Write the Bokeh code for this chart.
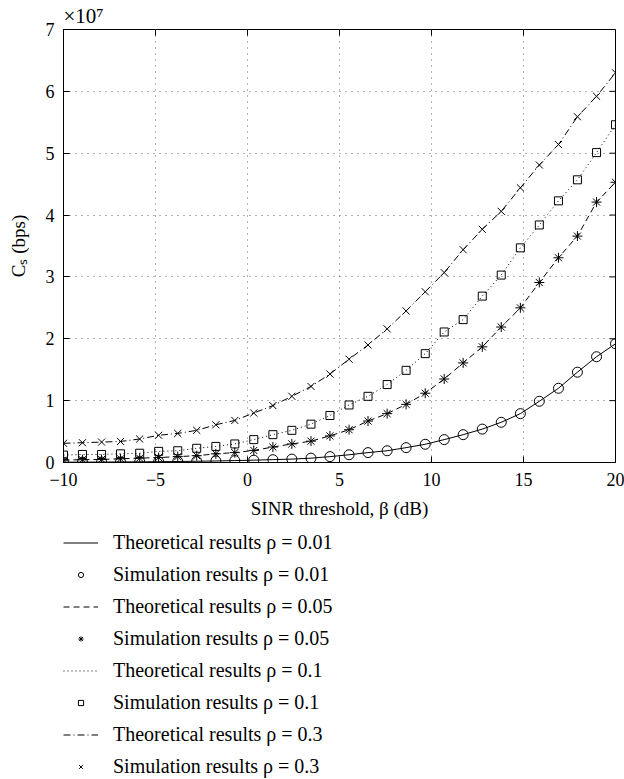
import numpy as np
from bokeh.plotting import figure
from bokeh.layouts import column
from bokeh.models import Range1d, Legend, LegendItem, FixedTicker
from bokeh.embed import file_html
from bokeh.resources import INLINE

# SINR threshold beta (dB)
beta_db = [-10.00, -8.97, -7.93, -6.90, -5.86, -4.83, -3.79, -2.76, -1.72, -0.69,
           0.34, 1.38, 2.41, 3.45, 4.48, 5.52, 6.55, 7.59, 8.62, 9.66,
           10.69, 11.72, 12.76, 13.79, 14.83, 15.86, 16.90, 17.93, 18.97, 20.00]

# Secrecy capacity Cs in units of 1e7 bps
cs_rho_001 = [0.005, 0.006, 0.007, 0.009, 0.011, 0.013, 0.016, 0.020, 0.025, 0.031,
              0.038, 0.046, 0.055, 0.070, 0.095, 0.125, 0.160, 0.190, 0.240, 0.295,
              0.370, 0.450, 0.540, 0.650, 0.790, 0.990, 1.200, 1.460, 1.710, 1.920]
cs_rho_005 = [0.040, 0.045, 0.050, 0.060, 0.070, 0.080, 0.095, 0.110, 0.140, 0.160,
              0.195, 0.250, 0.300, 0.345, 0.430, 0.530, 0.670, 0.790, 0.940, 1.120,
              1.350, 1.610, 1.870, 2.190, 2.500, 2.910, 3.310, 3.660, 4.210, 4.530]
cs_rho_01 = [0.120, 0.130, 0.130, 0.140, 0.150, 0.180, 0.190, 0.230, 0.260, 0.300,
             0.370, 0.450, 0.520, 0.620, 0.760, 0.930, 1.070, 1.260, 1.490, 1.760,
             2.110, 2.310, 2.690, 3.030, 3.470, 3.840, 4.230, 4.570, 5.010, 5.460]
cs_rho_03 = [0.310, 0.320, 0.330, 0.340, 0.380, 0.440, 0.470, 0.520, 0.610, 0.680,
             0.800, 0.920, 1.070, 1.230, 1.430, 1.670, 1.900, 2.160, 2.450, 2.760,
             3.070, 3.440, 3.770, 4.060, 4.440, 4.810, 5.140, 5.590, 5.920, 6.300]

x_ticks = [-10, -5, 0, 5, 10, 15, 20]
y_ticks = [0, 1, 2, 3, 4, 5, 6, 7]

rhos = ["0.01", "0.05", "0.1", "0.3"]
series = [cs_rho_001, cs_rho_005, cs_rho_01, cs_rho_03]
dashes = ["solid", "6 4", "1 3", "7 3 1 3"]
markers = ["circle", "asterisk", "square", "x"]
msizes = [10, 10, 8, 10]

FONT = "Liberation Serif"

p = figure(width=624, height=525, output_backend="svg", toolbar_location=None,
           x_range=Range1d(-10, 20), y_range=Range1d(0, 7),
           min_border_left=63, min_border_right=9, min_border_top=29,
           min_border_bottom=63, title="\u00d710\u2077")

p.title.align = "left"
p.title.text_font = FONT
p.title.text_font_size = "21px"
p.title.text_font_style = "normal"
p.title.text_color = "black"
p.title.standoff = 3
p.title.offset = 0

p.background_fill_color = "white"
p.border_fill_color = "white"
p.outline_line_color = "black"
p.outline_line_width = 1

for ax in (p.xaxis[0], p.yaxis[0]):
    ax.major_tick_in = 6
    ax.major_tick_out = 0
    ax.minor_tick_line_color = None
    ax.axis_line_color = "black"
    ax.major_tick_line_color = "black"
    ax.major_label_text_font = FONT
    ax.major_label_text_font_size = "18px"
    ax.major_label_text_color = "black"
    ax.axis_label_text_font = FONT
    ax.axis_label_text_font_size = "19px"
    ax.axis_label_text_font_style = "normal"
    ax.axis_label_text_color = "black"

p.xaxis.ticker = FixedTicker(ticks=x_ticks)
p.yaxis.ticker = FixedTicker(ticks=y_ticks)
p.xaxis.major_label_overrides = {-10: "\u221210", -5: "\u22125"}
p.xaxis.axis_label = "SINR threshold, \u03b2 (dB)"
p.yaxis.axis_label = "C\u209b (bps)"
p.xaxis.major_label_standoff = 10
p.xaxis.axis_label_standoff = 9
p.yaxis.major_label_standoff = 9
p.yaxis.axis_label_standoff = 14

# mirrored tick marks on the top and right edges of the box
p.scatter(x_ticks, [7] * len(x_ticks), marker="dash", angle=np.pi / 2, size=12,
          line_color="black", line_width=1)
p.scatter([20] * len(y_ticks), y_ticks, marker="dash", size=12,
          line_color="black", line_width=1)

p.xgrid.ticker = FixedTicker(ticks=x_ticks)
p.ygrid.ticker = FixedTicker(ticks=y_ticks)
for g in (p.xgrid[0], p.ygrid[0]):
    g.grid_line_color = "#666666"
    g.grid_line_dash = "1 5"
    g.grid_line_width = 1

for rho, ys, dash, mk, ms in zip(rhos, series, dashes, markers, msizes):
    p.line(beta_db, ys, line_color="black", line_width=1, line_dash=dash)
    p.scatter(beta_db, ys, marker=mk, size=ms, line_color="black",
              fill_color=None, line_width=1)

# legend panel below the chart
q = figure(width=624, height=254, output_backend="svg", toolbar_location=None,
           x_range=Range1d(100, 101), y_range=Range1d(100, 101),
           x_axis_location=None, y_axis_location=None,
           min_border_left=0, min_border_right=0, min_border_top=0,
           min_border_bottom=0)
q.outline_line_color = None
q.xgrid.visible = False
q.ygrid.visible = False

items = []
for rho, ys, dash, mk, ms in zip(rhos, series, dashes, markers, msizes):
    lr = q.line(beta_db, ys, line_color="black", line_width=1, line_dash=dash)
    sr = q.scatter(beta_db, ys, marker=mk, size=6, line_color="black",
                   fill_color=None, line_width=1)
    items.append(LegendItem(label="Theoretical results \u03c1 = " + rho, renderers=[lr]))
    items.append(LegendItem(label="Simulation results \u03c1 = " + rho, renderers=[sr]))

legend = Legend(items=items, location=(0, 1), orientation="vertical",
                label_text_font=FONT, label_text_font_size="20px",
                label_text_color="black", glyph_width=35, glyph_height=13,
                label_height=23, label_standoff=15, spacing=9, padding=0,
                margin=0, border_line_color=None, background_fill_alpha=0)
q.add_layout(legend)

layout = column(p, q, spacing=0)
open("out.html", "w").write(file_html(layout, INLINE))
